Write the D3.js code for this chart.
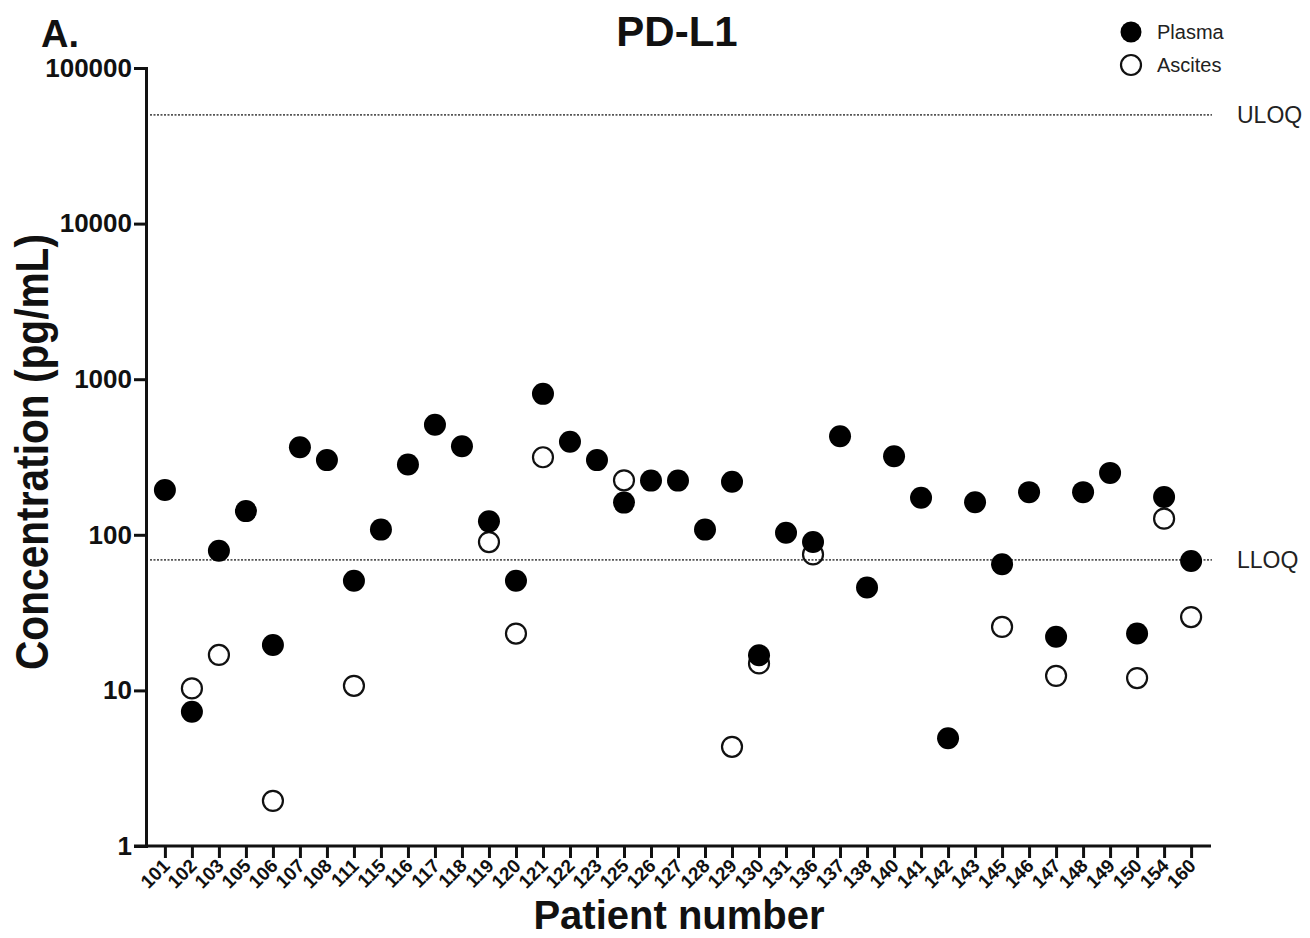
<!DOCTYPE html>
<html>
<head>
<meta charset="utf-8">
<script src="https://cdnjs.cloudflare.com/ajax/libs/d3/7.8.5/d3.min.js"></script>
<style>
  body { margin: 0; background: #fff; }
  svg text { font-family: "Liberation Sans", Arial, sans-serif; }
</style>
</head>
<body>
<div id="canvas"></div>
<script>
const patients = ["101","102","103","105","106","107","108","111","115","116","117","118","119","120","121","122","123","125","126","127","128","129","130","131","136","137","138","140","141","142","143","145","146","147","148","149","150","154","160"];
const plasma = [194,7.3,79,142,19.6,365,302,50.7,108,283,509,371,122,50.7,805,396,302,161,223,223,108,219,16.8,103,90,430,45.8,320,173,4.93,162,64.6,188,22.1,188,250,23.2,175,67.8];
const ascites = [null,10.3,16.9,null,1.95,null,null,10.7,null,null,null,null,89.8,23.2,315,null,null,224,null,null,null,4.34,14.9,null,74.8,null,null,null,null,null,null,25.6,null,12.4,null,null,12.0,127,29.6];
const yTicks = [1,10,100,1000,10000,100000];
const limits = [{label: "ULOQ", value: 50000}, {label: "LLOQ", value: 69}];

const w = 1310, h = 938;

let svg = d3.select("#canvas").append("svg")
  .attr("width", w).attr("height", h);

const x = d3.scalePoint().domain(patients).range([146, 1210]).padding(0.7);
const y = d3.scaleLog().domain([1, 100000]).range([846, 68]);

// limit lines first so the dots sit over them
svg.selectAll(".limit").data(limits).enter().append("line")
  .attr("x1", 150).attr("x2", 1212)
  .attr("y1", d => y(d.value)).attr("y2", d => y(d.value))
  .attr("stroke", "#555").attr("stroke-width", 1.6)
  .attr("stroke-dasharray", "2,1.5");
svg.selectAll(".limitLabel").data(limits).enter().append("text")
  .attr("x", 1237).attr("y", d => y(d.value) + 8)
  .attr("font-size", 23).attr("fill", "#222")
  .text(d => d.label);

// axes
let yAxis = svg.append("g").attr("transform", "translate(146,0)")
  .call(d3.axisLeft(y).tickValues(yTicks).tickFormat(d3.format("d")).tickSize(12).tickPadding(2));
let xAxis = svg.append("g").attr("transform", "translate(0,846)")
  .call(d3.axisBottom(x).tickSize(12).tickFormat(""));
[yAxis, xAxis].forEach(a => {
  a.select(".domain").attr("stroke", "#111").attr("stroke-width", 3);
  a.selectAll(".tick line").attr("stroke", "#111").attr("stroke-width", 3);
});
xAxis.select(".domain").attr("d", "M134,0H1211");
yAxis.selectAll(".tick text")
  .attr("font-size", 26).attr("font-weight", "bold").attr("fill", "#111")
  .attr("font-family", "Liberation Sans, Arial, sans-serif");

svg.append("g").selectAll("text").data(patients).enter().append("text")
  .attr("transform", d => "translate(" + (x(d) + 6) + ",867) rotate(-45)")
  .attr("text-anchor", "end")
  .attr("font-size", 19).attr("font-weight", "bold").attr("fill", "#111")
  .text(d => d);

// ascites (open) drawn under plasma
svg.append("g").selectAll("circle")
  .data(patients.map((p, i) => ({p: p, v: ascites[i]})).filter(d => d.v != null))
  .enter().append("circle")
  .attr("cx", d => x(d.p)).attr("cy", d => y(d.v)).attr("r", 10)
  .attr("fill", "none").attr("stroke", "#111").attr("stroke-width", 2.2);

svg.append("g").selectAll("circle")
  .data(patients.map((p, i) => ({p: p, v: plasma[i]})))
  .enter().append("circle")
  .attr("cx", d => x(d.p)).attr("cy", d => y(d.v)).attr("r", 11)
  .attr("fill", "#000");

// titles
svg.append("text").attr("x", 677).attr("y", 46).attr("text-anchor", "middle")
  .attr("font-size", 42).attr("font-weight", "bold").attr("fill", "#111").text("PD-L1");
svg.append("text").attr("x", 41).attr("y", 47)
  .attr("font-size", 38).attr("font-weight", "bold").attr("fill", "#111").text("A.");
svg.append("text").attr("x", 679).attr("y", 929).attr("text-anchor", "middle")
  .attr("font-size", 40).attr("font-weight", "bold").attr("fill", "#111").text("Patient number");
svg.append("text").attr("transform", "translate(48,452) rotate(-90)")
  .attr("text-anchor", "middle")
  .attr("font-size", 46).attr("font-weight", "bold").attr("fill", "#111")
  .attr("textLength", 436).attr("lengthAdjust", "spacingAndGlyphs")
  .text("Concentration (pg/mL)");

// legend
const legend = [{label: "Plasma", filled: true}, {label: "Ascites", filled: false}];
let lg = svg.append("g").selectAll("g").data(legend).enter().append("g")
  .attr("transform", (d, i) => "translate(1131," + (32 + i * 33) + ")");
lg.append("circle").attr("r", d => d.filled ? 10.5 : 10)
  .attr("fill", d => d.filled ? "#000" : "none")
  .attr("stroke", d => d.filled ? "none" : "#111").attr("stroke-width", 2.2);
lg.append("text").attr("x", 26).attr("y", 7)
  .attr("font-size", 20).attr("fill", "#222").text(d => d.label);
</script>
</body>
</html>
